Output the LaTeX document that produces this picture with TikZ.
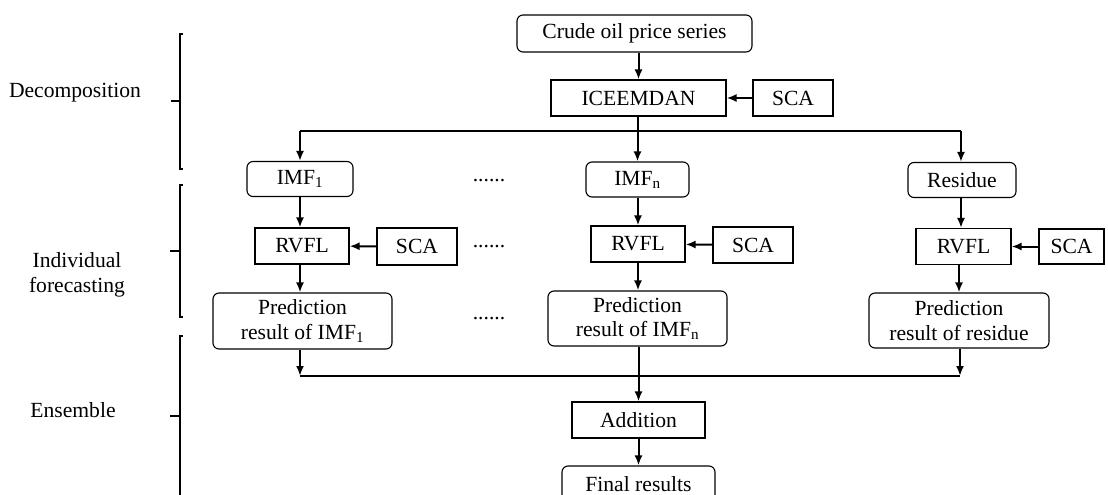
\documentclass[tikz,border=0pt]{standalone}
\usepackage{fontspec}
\setmainfont{Liberation Serif}
\usepackage{tikz}
\usetikzlibrary{shapes,arrows,arrows.meta}

\begin{document}
\begin{tikzpicture}[x=1pt,y=-1pt,>={Latex[length=10pt,width=8pt]},
    box/.style={draw,line width=1.1pt,inner sep=0pt,align=center},
    rbox/.style={box,rounded corners=6pt},
    con/.style={->,line width=2pt},
    link/.style={-,line width=2pt},
    brace/.style={-,line width=1.2pt}]
    \fontsize{21.6}{24.5}\selectfont
    \useasboundingbox (0,0) rectangle (1108,495);

    % Draw the stage labels and brackets
    \node (ldec) at (75,93) {Decomposition};
    \node (lind) at (77,275) [align=center] {Individual\\forecasting};
    \node (lens) at (73,410) {Ensemble};
    \draw [brace] (183,34) -- (180,34) -- (180,169) -- (183,169);
    \draw [brace] (171,101) -- (180,101);
    \draw [brace] (183,185) -- (180,185) -- (180,317) -- (183,317);
    \draw [brace] (170,251) -- (180,251);
    \draw [brace] (183,336) -- (180,336) -- (180,500);
    \draw [brace] (170,416) -- (180,416);

    % Draw the decomposition part
    \node [rbox,minimum width=235,minimum height=37] (crude) at (634.5,33.5) {Crude oil price series};
    \node [box,minimum width=175,minimum height=36] (ice) at (638.5,98) {ICEEMDAN};
    \node [box,minimum width=80,minimum height=36] (scatop) at (793,98) {SCA};
    \node [rbox,minimum width=106,minimum height=35] (imf1) at (300,179) {IMF\textsubscript{1}};
    \node [rbox,minimum width=103,minimum height=35] (imfn) at (637.5,179.5) {IMF\textsubscript{n}};
    \node [rbox,minimum width=108,minimum height=35] (res) at (962,180) {Residue};
    \coordinate (s1) at (300,131);
    \coordinate (s3) at (961,131);

    \draw [con] (crude.south -| ice.north) -- (ice.north);
    \draw [con] (scatop) -- (ice);
    \draw [link] (s1) -- (s3);
    \draw [con] (s1) -- (imf1);
    \draw [con] (ice.south -| imfn.north) -- (imfn.north);
    \draw [con] (s3) -- (s3 |- res.north);

    % Draw the individual forecasting part
    \node [box,minimum width=94,minimum height=36] (rv1) at (302,246) {RVFL};
    \node [box,minimum width=80,minimum height=37] (sca1) at (417,246.5) {SCA};
    \node [box,minimum width=94,minimum height=36] (rvn) at (638,244) {RVFL};
    \node [box,minimum width=80,minimum height=36] (scan) at (753,245) {SCA};
    \node [box,minimum width=95,minimum height=36] (rvr) at (963.5,246.5) {RVFL};
    \node [box,minimum width=65,minimum height=35] (scar) at (1071.5,246.5) {SCA};
    \node [rbox,minimum width=179,minimum height=56] (pred1) at (302.5,321) {Prediction\\result of IMF\textsubscript{1}};
    \node [rbox,minimum width=179,minimum height=55] (predn) at (637.5,318.5) {Prediction\\result of IMF\textsubscript{n}};
    \node [rbox,minimum width=180,minimum height=55] (predr) at (959,320.5) {Prediction\\result of residue};
    \node (dots1) at (489,181) {......};
    \node (dots2) at (489,247) {......};
    \node (dots3) at (489,319) {......};

    \draw [con] (imf1.south -| s1) -- (rv1.north -| s1);
    \draw [con] (imfn.south -| rvn.north) -- (rvn.north);
    \draw [con] (res.south -| s3) -- (rvr.north -| s3);
    \draw [con] (sca1) -- (rv1);
    \draw [con] (scan) -- (rvn);
    \draw [con] (scar) -- (rvr);
    \draw [con] (rv1.south -| s1) -- (pred1.north -| s1);
    \draw [con] (rvn.south) -- (predn.north -| rvn.south);
    \draw [con] (rvr.south -| predr.north) -- (predr.north);

    % Draw the ensemble part
    \coordinate (m1) at (300,376);
    \coordinate (m3) at (960,376);
    \node [box,minimum width=133,minimum height=36] (add) at (638.5,420) {Addition};
    \node [rbox,minimum width=153,minimum height=36] (fin) at (638.5,484) {Final results};

    \draw [link] (m1) -- (m3);
    \draw [con] (pred1.south -| m1) -- (m1);
    \draw [con] (predr.south -| m3) -- (m3);
    \draw [con] (predn.south -| add.north) -- (add.north);
    \draw [con] (add) -- (fin);

\end{tikzpicture}
\end{document}
